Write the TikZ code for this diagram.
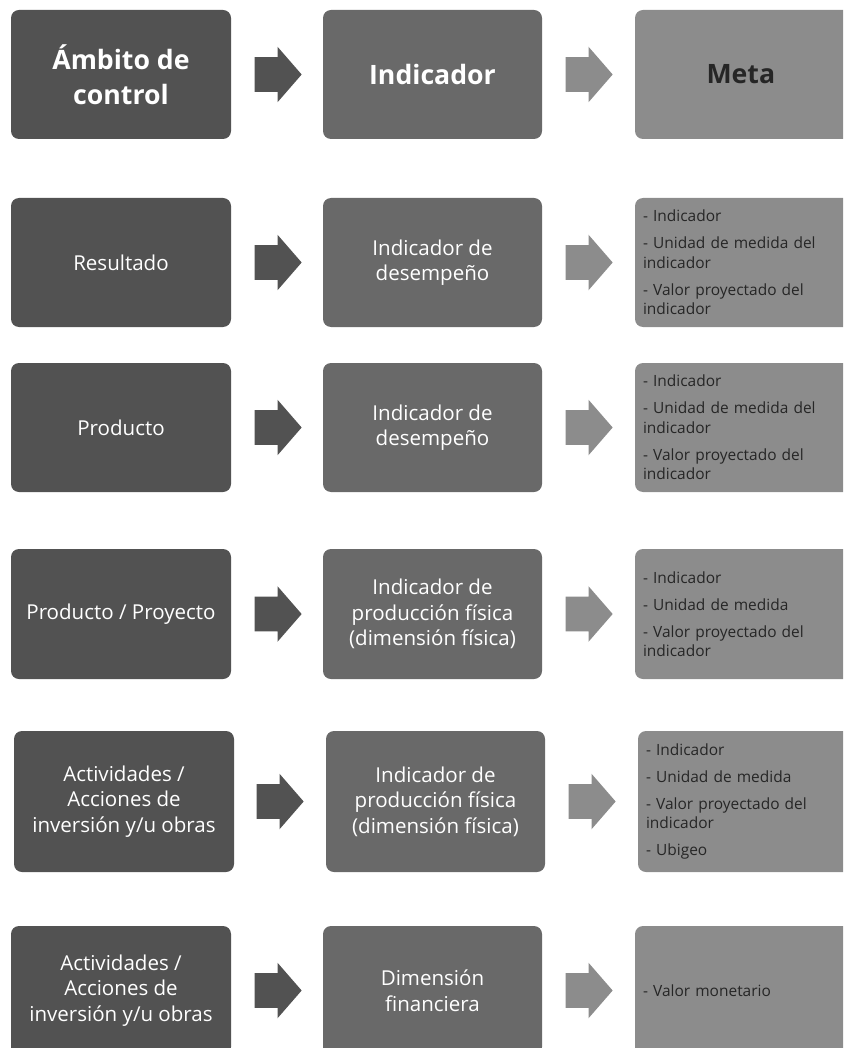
\documentclass[tikz,border=0pt]{standalone}
\usepackage{fontspec}
\setmainfont{Open Sans}
\usetikzlibrary{shapes.arrows}
\definecolor{cA}{HTML}{525252}
\definecolor{cB}{HTML}{696969}
\definecolor{cC}{HTML}{8C8C8C}
\definecolor{tC}{HTML}{262626}
\begin{document}
\begin{tikzpicture}[x=0.75pt,y=-0.75pt,
  box/.style={rounded corners=6pt, inner sep=0pt, align=center, text=white,
    font=\fontsize{15.4}{19.2}\selectfont},
  hd/.style={font=\bfseries\fontsize{20}{26.5}\selectfont},
  colA/.style={box, fill=cA, minimum width=165pt},
  colB/.style={box, fill=cB, minimum width=164.25pt},
  colC/.style={box, fill=cC, text=tC, text width=156.75pt, inner xsep=6pt, inner ysep=0pt, align=left,
    font=\fontsize{11.6}{14.6}\selectfont},
  hA/.style={minimum height=96.75pt},
  hB/.style={minimum height=97.5pt},
  hC/.style={minimum height=105.75pt},
  arr/.style={single arrow, draw=none, inner sep=0pt, minimum height=35.25pt,
    single arrow head extend=7.875pt, single arrow tip angle=98, anchor=tip},
  arrA/.style={arr, fill=cA},
  arrC/.style={arr, fill=cC}
]
\useasboundingbox (0,0) rectangle (843,1048);
\clip (0,0) rectangle (843,1048);

% Row 1 (header)
\node[colA,hA,hd] (a1) at (121,74.5) {Ámbito de\\control};
\node[colB,hA,hd] (b1) at (432.5,74.5) {Indicador};
\node[colC,hA,hd,align=center] (c1) at (747.5,74.5) {\hspace*{-10pt}Meta};
\node[arrA] (p1) at (302,74.5) {\rule{0pt}{25.5pt}};
\node[arrC] (q1) at (613,74.5) {\rule{0pt}{25.5pt}};

% Row 2
\node[colA,hA] (a2) at (121,262.5) {Resultado};
\node[colB,hA] (b2) at (432.5,262.5) {Indicador de\\desempeño};
\node[colC,hA] (c2) at (747.5,262.5) {- Indicador\\[5.6pt]- Unidad de medida del\\indicador\\[5.6pt]- Valor proyectado del\\indicador};
\node[arrA] (p2) at (302,262.5) {\rule{0pt}{25.5pt}};
\node[arrC] (q2) at (613,262.5) {\rule{0pt}{25.5pt}};

% Row 3
\node[colA,hA] (a3) at (121,427.5) {Producto};
\node[colB,hA] (b3) at (432.5,427.5) {Indicador de\\desempeño};
\node[colC,hA] (c3) at (747.5,427.5) {- Indicador\\[5.6pt]- Unidad de medida del\\indicador\\[5.6pt]- Valor proyectado del\\indicador};
\node[arrA] (p3) at (302,427.5) {\rule{0pt}{25.5pt}};
\node[arrC] (q3) at (613,427.5) {\rule{0pt}{25.5pt}};

% Row 4
\node[colA,hB] (a4) at (121,614) {Producto / Proyecto};
\node[colB,hB] (b4) at (432.5,614) {Indicador de\\producción física\\(dimensión física)};
\node[colC,hB] (c4) at (747.5,614) {- Indicador\\[5.6pt]- Unidad de medida\\[5.6pt]- Valor proyectado del\\indicador};
\node[arrA] (p4) at (302,614) {\rule{0pt}{25.5pt}};
\node[arrC] (q4) at (613,614) {\rule{0pt}{25.5pt}};

% Row 5
\node[colA,hC] (a5) at (124,801.5) {Actividades /\\Acciones de\\inversión y/u obras};
\node[colB,hC] (b5) at (435.5,801.5) {Indicador de\\producción física\\(dimensión física)};
\node[colC,hC] (c5) at (750.5,801.5) {- Indicador\\[5.6pt]- Unidad de medida\\[5.6pt]- Valor proyectado del\\indicador\\[5.6pt]- Ubigeo};
\node[arrA] (p5) at (304,801.5) {\rule{0pt}{25.5pt}};
\node[arrC] (q5) at (616,801.5) {\rule{0pt}{25.5pt}};

% Row 6
\node[colA,hA] (a6) at (121,990.5) {Actividades /\\Acciones de\\inversión y/u obras};
\node[colB,hA] (b6) at (432.5,990.5) {Dimensión\\financiera};
\node[colC,hA] (c6) at (747.5,990.5) {- Valor monetario};
\node[arrA] (p6) at (302,990.5) {\rule{0pt}{25.5pt}};
\node[arrC] (q6) at (613,990.5) {\rule{0pt}{25.5pt}};
\end{tikzpicture}
\end{document}
